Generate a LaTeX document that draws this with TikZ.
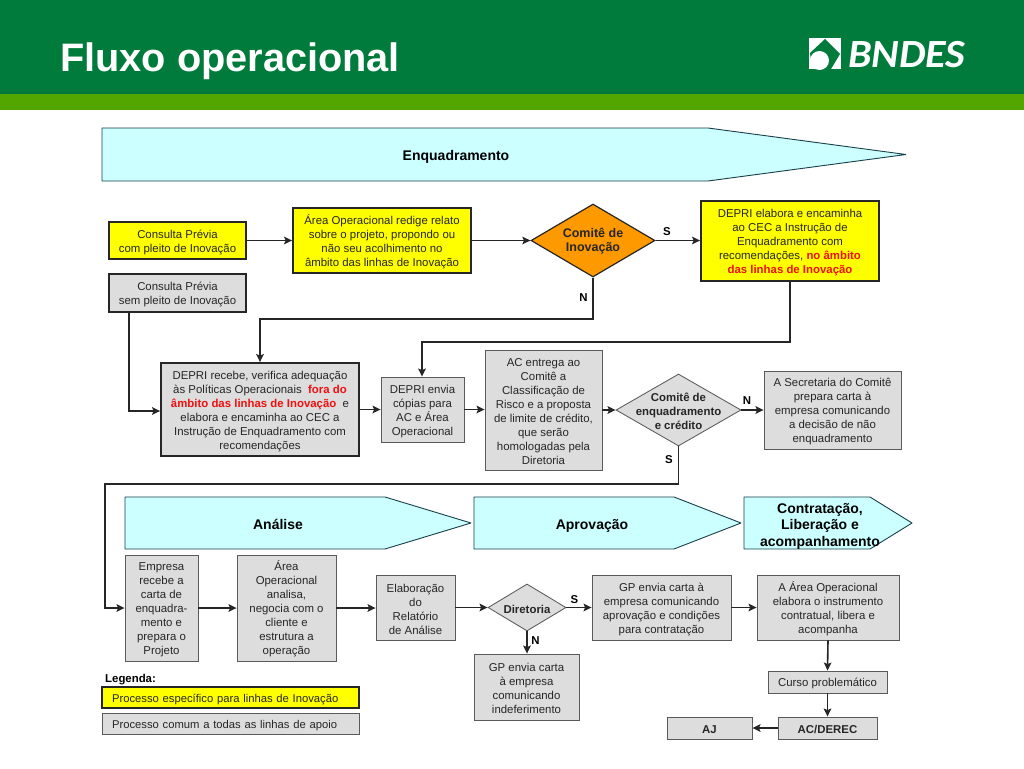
\documentclass[tikz,border=0pt]{standalone}
\usepackage{fontspec}
\setmainfont{Liberation Sans}
\newfontfamily\logofont[FakeStretch=1.05]{Carlito}
\usetikzlibrary{arrows.meta,shapes.geometric,calc}
\definecolor{hdr}{HTML}{007B3B}
\definecolor{hdrb}{HTML}{53A500}
\definecolor{cyanf}{HTML}{CCFFFF}
\definecolor{grayf}{HTML}{DDDDDD}
\definecolor{yel}{HTML}{FFFF00}
\definecolor{org}{HTML}{FF9900}
\definecolor{edgeg}{HTML}{5A5A5A}
\definecolor{redt}{HTML}{F01010}
\definecolor{pent}{HTML}{17404A}
\tikzset{
 x=1pt,y=-1pt,
 txt/.style={font=\fontsize{11.4}{14}\selectfont,align=center,text=black!85},
 graybox/.style={txt,draw=edgeg,fill=grayf,line width=.85pt,inner sep=0pt},
 graystrong/.style={txt,draw=black!85,fill=grayf,line width=1.8pt,inner sep=0pt},
 yelbox/.style={txt,draw=black!85,fill=yel,line width=1.8pt,inner sep=0pt},
 dia/.style={diamond,aspect=1.7,inner xsep=-20pt,inner ysep=-20pt,align=center,font=\fontsize{11.4}{14}\selectfont\bfseries},
 lab/.style={font=\fontsize{11.4}{14}\selectfont\bfseries,text=black,inner sep=0pt},
 head/.style={font=\fontsize{14}{16.5}\selectfont\bfseries,align=center,text=black,inner sep=0pt},
 penta/.style={draw=pent,fill=cyanf,line width=.9pt,line join=bevel},
 flow/.style={draw=black!85,line width=1.6pt,-{Stealth[length=8pt,width=7.5pt,inset=1.5pt]}},
}
\newcommand{\bx}[8][]{% options, style, x0,y0,x1,y1, name, text
 \node[#2,minimum width=#5pt-#3pt,minimum height=#6pt-#4pt,#1] (#7) at ({(#3+#5)/2},{(#4+#6)/2}) {\\[-2pt]#8}}
\begin{document}
\begin{tikzpicture}
\useasboundingbox (0,0) rectangle (1024,768);
\fill[white] (0,0) rectangle (1024,768);
\fill[hdr] (0,0) rectangle (1024,94);
\fill[hdrb] (0,94) rectangle (1024,110);
\node[anchor=base west,inner sep=0pt,text=white,font=\fontsize{39.7}{44}\selectfont\bfseries] (title) at (60,71) {Fluxo operacional};
% logo
\fill[white] (809,38) rectangle (841,69);
\fill[hdr] (810,53) -- (825,39) -- (840,54) -- (831,69) -- (812,69) -- cycle;
\fill[white] (819.5,60.5) circle (9.5);
\fill[white] (809,60) rectangle (815,69);
\node[anchor=base west,inner sep=0pt,text=white,font=\logofont\fontsize{40}{44}\selectfont\bfseries\itshape] (logo) at (848,67) {BNDES};
% pentagons
\draw[penta] (102,128) -- (708,128) -- (906,154.5) -- (708,181) -- (102,181) -- cycle;
\node[head,anchor=base] (h1) at (456,160.5) {Enquadramento};
\draw[penta] (125,497) -- (385,497) -- (471,523) -- (385,549) -- (125,549) -- cycle;
\node[head,anchor=base] (h2) at (278,529) {Análise};
\draw[penta] (474,497) -- (674,497) -- (741,523) -- (674,549) -- (474,549) -- cycle;
\node[head,anchor=base] (h3) at (592,529) {Aprovação};
\draw[penta] (744,497) -- (870,497) -- (912,523) -- (870,549) -- (744,549) -- cycle;
\node[head] (h4) at (820,526) {Contratação,\\Liberação e\\acompanhamento};
% boxes row 1
\bx{yelbox}{109}{222}{246}{259}{cp1}{Consulta Prévia\\com pleito de Inovação};
\bx{graystrong}{109}{274}{246}{312}{cp2}{Consulta Prévia\\sem pleito de Inovação};
\bx{yelbox}{293}{208}{471}{273}{ao}{Área Operacional redige relato\\sobre o projeto, propondo ou\\não seu acolhimento no\\âmbito das linhas de Inovação};
\node[dia,font=\fontsize{12.5}{14}\selectfont\bfseries,draw=black!85,fill=org,line width=1.2pt,minimum width=124pt,minimum height=73pt,text=black!85] (ci) at (593,240.5) {\\[-4pt]Comitê de\\Inovação};
\bx{yelbox}{701}{201}{879}{281}{de}{DEPRI elabora e encaminha\\ao CEC a Instrução de\\Enquadramento com\\recomendações, {\bfseries\color{redt}no âmbito}\\{\bfseries\color{redt}das linhas de Inovação}};
% row 2
\bx{graystrong}{161}{363}{359}{456}{dr}{DEPRI recebe, verifica adequação\\às Políticas Operacionais~ {\bfseries\color{redt}fora do}\\{\bfseries\color{redt}âmbito das linhas de Inovação}~ e\\elabora e encaminha ao CEC a\\Instrução de Enquadramento com\\recomendações};
\bx{graybox}{381}{377}{464}{442}{dc}{DEPRI envia\\cópias para\\AC e Área\\Operacional};
\bx{graybox}{485}{350}{602}{470}{ac}{AC entrega ao\\Comitê a\\Classificação de\\Risco e a proposta\\de limite de crédito,\\que serão\\homologadas pela\\Diretoria};
\node[dia,draw=edgeg,fill=grayf,line width=.85pt,minimum width=125pt,minimum height=72pt,text=black!85] (ce) at (678.5,410) {\\[-2pt]Comitê de\\enquadramento\\e crédito};
\bx{graybox}{764}{371}{901}{449}{se}{A Secretaria do Comitê\\prepara carta à\\empresa comunicando\\a decisão de não\\enquadramento};
% row 3
\bx{graybox}{125}{555}{198}{661}{em}{Empresa\\recebe a\\carta de\\enquadra-\\mento e\\prepara o\\Projeto};
\bx{graybox}{237}{555}{336}{661}{an}{Área\\Operacional\\analisa,\\negocia com o\\cliente e\\estrutura a\\operação};
\bx{graybox}{376}{575}{455}{640}{el}{Elaboração\\do\\Relatório\\de Análise};
\node[dia,draw=edgeg,fill=grayf,line width=.85pt,minimum width=78pt,minimum height=47pt,text=black!85] (di) at (527,607.5) {\\[-2pt]Diretoria};
\bx{graybox}{592}{575}{731}{640}{gp}{GP envia carta à\\empresa comunicando\\aprovação e condições\\para contratação};
\bx{graybox}{757}{575}{899}{640}{aa}{A Área Operacional\\elabora o instrumento\\contratual, libera e\\acompanha};
\bx{graybox}{474}{654}{579}{720}{gi}{GP envia carta\\à empresa\\comunicando\\indeferimento};
\bx{graybox}{768}{671}{887}{693}{cu}{Curso problemático};
\bx[font=\fontsize{11.4}{14}\selectfont\bfseries]{graybox}{778}{717}{877}{739}{dx}{AC/DEREC};
\bx[font=\fontsize{11.4}{14}\selectfont\bfseries]{graybox}{667}{717}{752}{739}{aj}{AJ};
% legend
\node[lab,anchor=base west] (lg) at (105,682) {Legenda:};
\bx[line width=1.1pt,text width=247pt,align=left,font=\fontsize{11.25}{14}\selectfont]{yelbox}{102}{687}{359}{708}{ly}{\hspace*{5pt}Processo específico para linhas de Inovação};
\bx[text width=247pt,align=left,font=\fontsize{11.25}{14}\selectfont]{graybox}{102}{713}{359}{734}{lz}{\hspace*{5pt}Processo comum a todas as linhas de apoio};
% connectors
\draw[flow] (cp1.east) -- (ao.west |- cp1.east);
\draw[flow] (ao.east |- ci.west) -- (ci.west);
\draw[flow] (ci.east) -- (de.west |- ci.east);
\coordinate (a1) at (129,411);
\draw[flow] (cp2.south -| a1) -- (a1) -- (dr.west |- a1);
\coordinate (a2) at (593,319);
\coordinate (a3) at (260,319);
\draw[flow] (ci.south) -- (a2) -- (a3) -- (dr.north -| a3);
\coordinate (a4) at (790,342);
\coordinate (a5) at (422,342);
\draw[flow] (de.south -| a4) -- (a4) -- (a5) -- (dc.north -| a5);
\draw[flow] (dr.east) -- (dc.west);
\draw[flow] (dc.east) -- (ac.west |- dc.east);
\draw[flow] (ac.east |- ce.west) -- (ce.west);
\draw[flow] (ce.east) -- (se.west |- ce.east);
\coordinate (a6) at (678.5,484);
\coordinate (a7) at (105,484);
\coordinate (a8) at (105,608);
\draw[flow] (ce.south) -- (a6) -- (a7) -- (a8) -- (em.west |- a8);
\draw[flow] (em.east) -- (an.west);
\draw[flow] (an.east) -- (el.west |- an.east);
\draw[flow] (el.east) -- (di.west);
\draw[flow] (di.east) -- (gp.west |- di.east);
\draw[flow] (di.south) -- (gi.north -| di.south);
\draw[flow] (gp.east) -- (aa.west);
\draw[flow] (aa.south) -- (cu.north);
\draw[flow] (cu.south) -- (dx.north);
\draw[flow] (dx.west) -- (aj.east);
% branch labels
\node[lab] (s1) at (667,232) {S};
\node[lab] (n1) at (583.5,298) {N};
\node[lab] (n2) at (747,401) {N};
\node[lab] (s2) at (669,460) {S};
\node[lab] (s3) at (574.5,600) {S};
\node[lab] (n3) at (535.5,641) {N};
\end{tikzpicture}
\end{document}
